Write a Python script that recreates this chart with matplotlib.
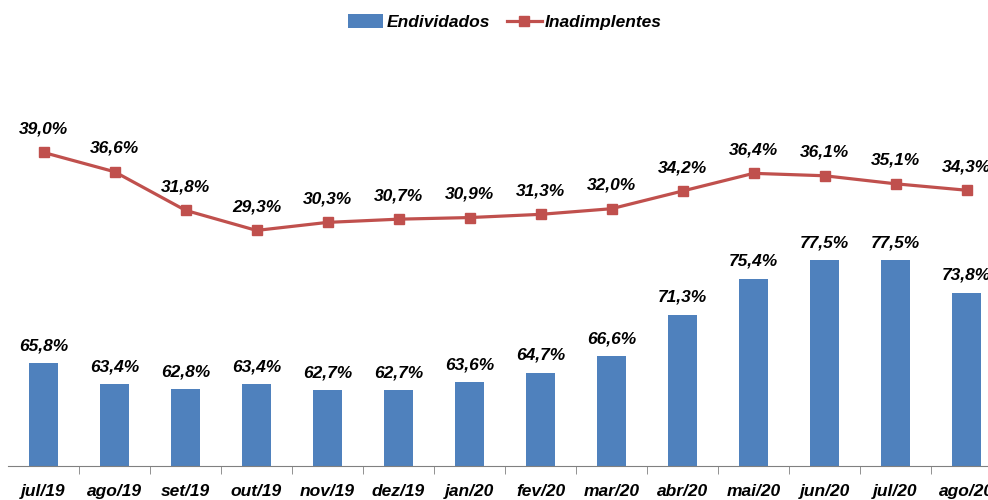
import matplotlib
matplotlib.use("Agg")
import matplotlib.pyplot as plt
import numpy as np

meses = ["jul/19", "ago/19", "set/19", "out/19", "nov/19", "dez/19", "jan/20",
         "fev/20", "mar/20", "abr/20", "mai/20", "jun/20", "jul/20", "ago/20"]
endividados = [65.8, 63.4, 62.8, 63.4, 62.7, 62.7, 63.6, 64.7, 66.6, 71.3, 75.4, 77.5, 77.5, 73.8]
inadimplentes = [39.0, 36.6, 31.8, 29.3, 30.3, 30.7, 30.9, 31.3, 32.0, 34.2, 36.4, 36.1, 35.1, 34.3]

plt.rcParams['font.family'] = ['Liberation Sans Narrow', 'Liberation Sans', 'DejaVu Sans']
fnt = dict(fontweight="bold", fontstyle="italic")

W, H = 988, 500
fig = plt.figure(figsize=(W / 100, H / 100), dpi=100)
left, bottom, top = 8, 466, 50
ax = fig.add_axes([left / W, (H - bottom) / H, 14 * 71 / W, (bottom - top) / H])
ax2 = ax.twinx()

x = np.arange(len(meses))
barras = ax.bar(x, endividados, width=0.41, color="#4F81BD", label="Endividados", zorder=2)
linha, = ax2.plot(x, inadimplentes, color="#C0504D", lw=2.3, marker="s", ms=7,
                  label="Inadimplentes", zorder=3)

ax.set_xlim(-0.5, 13.5)
ax.set_ylim(54.1, 54.1 + (bottom - top) / 8.8)
ax2.set_ylim(0, (bottom - top) / 8.04)

for xi, v in zip(x, endividados):
    ax.annotate(f"{v:.1f}%".replace(".", ","), (xi, v), xytext=(0, 7), textcoords="offset points",
                ha="center", va="bottom", fontsize=12.5, **fnt)
for xi, v in zip(x, inadimplentes):
    ax2.annotate(f"{v:.1f}%".replace(".", ","), (xi, v), xytext=(0, 11.5), textcoords="offset points",
                 ha="center", va="bottom", fontsize=12.5, **fnt)

for a in (ax, ax2):
    for s in ("top", "right", "left"):
        a.spines[s].set_visible(False)
    a.set_yticks([])
ax2.spines["bottom"].set_visible(False)
ax.spines["bottom"].set_color("#808080")

ax.set_xticks(x)
ax.set_xticklabels(meses, fontsize=12.5, **fnt)
ax.tick_params(axis="x", which="major", length=0, pad=13)
ax.set_xticks(np.arange(0.5, 13.5, 1), minor=True)
ax.tick_params(axis="x", which="minor", length=6, color="#808080")

fig.legend(handles=[barras, linha], loc="center", bbox_to_anchor=(505 / W, 1 - 22 / H),
           ncol=2, frameon=False,
           prop=dict(family=['Liberation Sans Narrow', 'Liberation Sans', 'DejaVu Sans'],
                     weight="bold", style="italic", size=12.5),
           handlelength=2.0, handleheight=0.9, columnspacing=1.0, handletextpad=0.2)

fig.savefig("out.png", dpi=100)
